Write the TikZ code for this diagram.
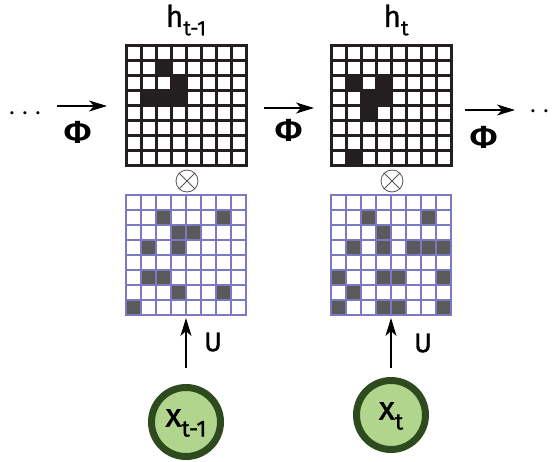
\documentclass[tikz,border=0pt]{standalone}
\usepackage{fontspec}
\setmainfont{Fira Sans}
\usetikzlibrary{arrows.meta}
\definecolor{gline}{HTML}{231F20}
\definecolor{bline}{HTML}{7B79C2}
\definecolor{bfill}{HTML}{5A5A5A}
\definecolor{cfill}{HTML}{B1D58C}
\definecolor{cline}{HTML}{2E4B20}
\definecolor{oline}{HTML}{555555}
\tikzset{
  arr/.style={-{Stealth[length=18pt,width=11pt,inset=5pt]}, line width=1.3pt, black},
  gridbox/.style={minimum size=120pt, inner sep=0pt, outer sep=0pt},
  blk/.style={line width=3pt, draw=gline, line cap=rect},
  blu/.style={line width=2.5pt, draw=bline, line cap=rect},
  circ/.style={circle, draw=cline, line width=7pt, fill=cfill, minimum size=69pt, inner sep=0pt},
  otim/.style={circle, draw=oline, line width=0.8pt, minimum size=22pt, inner sep=0pt},
  philab/.style={font=\fontsize{32}{33}\selectfont\bfseries, inner sep=0pt},
  ulab/.style={font=\fontsize{27}{28}\selectfont\addfontfeature{FakeBold=1.2}, inner sep=0pt},
  hlab/.style={font=\fontsize{30}{31}\selectfont\addfontfeature{FakeBold=0.8}, inner sep=0pt},
  xlab/.style={font=\fontsize{33}{34}\selectfont\addfontfeature{FakeBold=1.2}, inner sep=0pt},
  dots/.style={font=\fontsize{22}{24}\selectfont, inner sep=0pt},
}
\newcommand{\hsub}[1]{\raisebox{-0.28em}{\fontsize{21}{22}\selectfont #1}}
\newcommand{\xsub}[1]{\raisebox{-0.3em}{\fontsize{23}{24}\selectfont #1}}
\begin{document}
\begin{tikzpicture}[x=1pt,y=-1pt]
\useasboundingbox (0,0) rectangle (556,461);
% grid nodes
\node[gridbox] (g1) at (186,105) {};
\node[gridbox] (g2) at (391,105) {};
\node[gridbox] (b1) at (186,255) {};
\node[gridbox] (b2) at (391,255) {};
% black grid 1
\begin{scope}[shift={(126,45)}]
  \foreach \r/\c in {1/2,2/3,3/1,3/2,3/3} \fill[gline] (15*\c,15*\r) rectangle ++(15,15);
  \foreach \i in {0,...,8} {\draw[blk] (15*\i,0) -- (15*\i,120); \draw[blk] (0,15*\i) -- (120,15*\i);}
\end{scope}
% black grid 2
\begin{scope}[shift={(331,45)}]
  \foreach \r/\c in {2/1,2/3,3/2,3/3,4/2,7/1} \fill[gline] (15*\c,15*\r) rectangle ++(15,15);
  \foreach \i in {0,...,8} {\draw[blk] (15*\i,0) -- (15*\i,120); \draw[blk] (0,15*\i) -- (120,15*\i);}
\end{scope}
% blue grid 1
\begin{scope}[shift={(126,195)}]
  \foreach \r/\c in {1/2,1/6,2/3,2/4,3/1,3/3,5/1,5/2,6/3,6/6,7/0} \fill[bfill] (15*\c,15*\r) rectangle ++(15,15);
  \foreach \i in {0,...,8} {\draw[blu] (15*\i,0) -- (15*\i,120); \draw[blu] (0,15*\i) -- (120,15*\i);}
\end{scope}
% blue grid 2
\begin{scope}[shift={(331,195)}]
  \foreach \r/\c in {1/2,1/6,2/3,3/1,3/3,3/5,3/6,3/7,5/0,5/3,5/4,5/7,6/1,7/0,7/3,7/4,7/7} \fill[bfill] (15*\c,15*\r) rectangle ++(15,15);
  \foreach \i in {0,...,8} {\draw[blu] (15*\i,0) -- (15*\i,120); \draw[blu] (0,15*\i) -- (120,15*\i);}
\end{scope}
% labels h
\node[hlab] (h1) at (186,20) {h\hsub{t-1}};
\node[hlab] (h2) at (396,20) {h\hsub{t}};
% otimes
\node[otim] (o1) at (187,181) {};
\draw[oline, line width=0.8pt] (o1.north west) -- (o1.south east) (o1.north east) -- (o1.south west);
\node[otim] (o2) at (392,181) {};
\draw[oline, line width=0.8pt] (o2.north west) -- (o2.south east) (o2.north east) -- (o2.south west);
% input circles
\node[circ] (c1) at (186,422) {};
\node[xlab] (x1) at (186,423) {x\xsub{t-1}};
\node[circ] (c2) at (391,415) {};
\node[xlab] (x2) at (391,416) {x\xsub{t}};
% up arrows
\draw[arr, shorten <=16pt, shorten >=3pt] (c1) -- (b1);
\draw[arr, shorten <=9pt, shorten >=3pt] (c2) -- (b2);
\node[ulab] (u1) at (213,342) {U};
\node[ulab] (u2) at (423,343) {U};
% horizontal arrows
\coordinate (l1) at (57,106);
\coordinate (r1) at (515,110);
\draw[arr, shorten >=19pt] (l1) -- (l1 -| g1.west);
\draw[arr, shorten <=18pt, shorten >=17pt] ([yshift=-3pt]g1.east) -- ([yshift=-3pt]g2.west);
\draw[arr, shorten <=14pt] (r1 -| g2.east) -- (r1);
\node[philab] (p1) at (78,132) {Φ};
\node[philab] (p2) at (289,130) {Φ};
\node[philab] (p3) at (484,137) {Φ};
\node[dots] (d1) at (25,113) {. . .};
\node[dots] (d2) at (546,111) {. . .};
\end{tikzpicture}
\end{document}
